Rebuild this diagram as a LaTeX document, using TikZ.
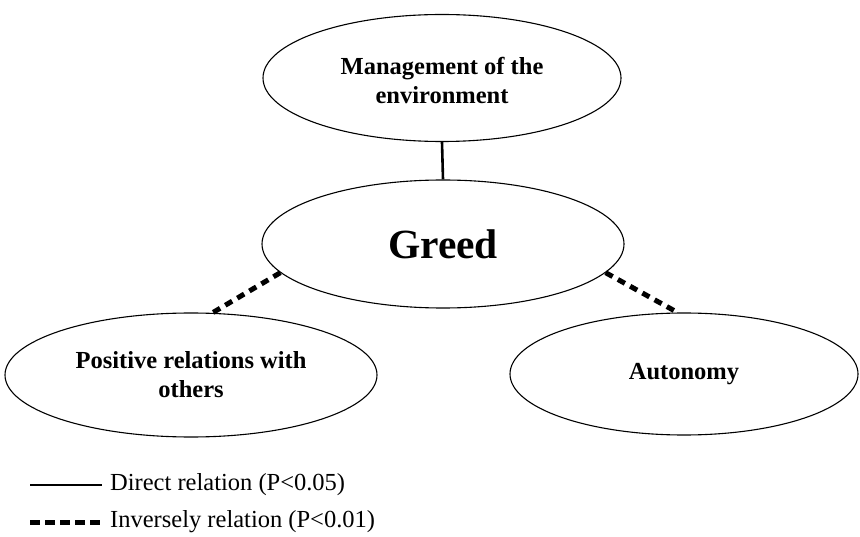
\documentclass[tikz,border=0pt]{standalone}
\usepackage{fontspec}
\setmainfont{Liberation Serif}
\usetikzlibrary{positioning,shapes.geometric}

\begin{document}
\begin{tikzpicture}[x=1pt, y=-1pt,
  oval/.style={draw, ellipse, line width=1.1pt, inner sep=0pt, align=center, font=\fontsize{24.5}{29}\selectfont\bfseries},
  solidrel/.style={line width=2.6pt},
  inverserel/.style={line width=5pt, dash pattern=on 8pt off 6pt},
  every node/.style={text=black}]
  \useasboundingbox (0,0) rectangle (860,537);
  % ellipses
  \node[oval, minimum width=358pt, minimum height=127pt] (mgmt) at (442,78) {\rule{0pt}{23pt}Management of the\\ environment};
  \node[oval, minimum width=362pt, minimum height=128pt, font=\fontsize{41.5}{48}\selectfont\bfseries] (greed) at (443,244) {Greed};
  \node[oval, minimum width=372pt, minimum height=124pt] (posrel) at (191,375) {Positive relations with\\ others};
  \node[oval, minimum width=348pt, minimum height=122pt] (auto) at (684,374) {Autonomy};
  % relations
  \draw[solidrel] (mgmt.south) -- (greed.north);
  \draw[inverserel] (greed.190) -- (posrel.71);
  \draw[inverserel] (greed.350) -- (auto.96);
  % legend
  \coordinate (dirstart) at (30,485);
  \coordinate (invstart) at (30,522);
  \node[anchor=west, font=\fontsize{24.5}{29}\selectfont, inner sep=2pt] (dirlbl) at (108,485) {Direct relation (P<0.05)};
  \node[anchor=west, font=\fontsize{24.5}{29}\selectfont, inner sep=2pt] (invlbl) at (108,522) {Inversely relation (P<0.01)};
  \draw[solidrel] (dirstart) -- ([xshift=-6pt]dirlbl.west);
  \draw[inverserel, dash pattern=on 10pt off 5pt] (invstart) -- ([xshift=-6pt]invlbl.west);
\end{tikzpicture}
\end{document}
